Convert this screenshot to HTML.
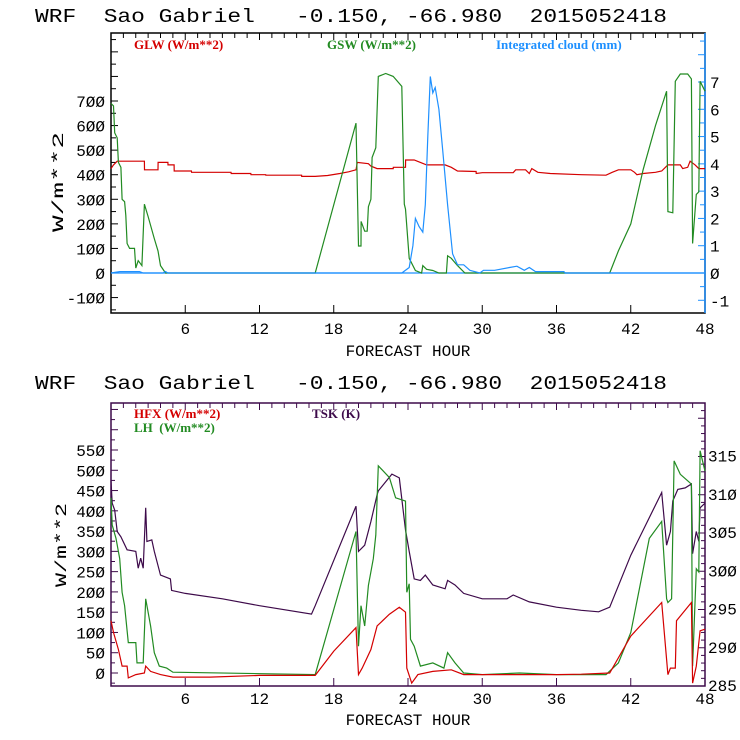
<!DOCTYPE html>
<html><head><meta charset="utf-8"><style>
body{margin:0;background:#fff;}
svg{display:block;font-family:"Liberation Mono",monospace;}
.t{font-size:19px;fill:#000;white-space:pre;}
.ax{font-size:16px;fill:#000;}
.lg{font-family:"Liberation Serif",serif;font-size:13px;font-weight:bold;white-space:pre;}
</style></head><body>
<svg id="svg" width="740" height="740" viewBox="0 0 740 740">
<text class="t" x="35" y="22" textLength="632" lengthAdjust="spacingAndGlyphs">WRF  Sao Gabriel   -0.150, -66.980  2015052418</text>
<text class="t" x="35" y="389" textLength="632" lengthAdjust="spacingAndGlyphs">WRF  Sao Gabriel   -0.150, -66.980  2015052418</text>
<g id="topchart"></g>
<g id="botchart"></g>
</svg>
<script>
// ---- top chart data (hour, value) ----
const glwHours=[0,0.2,0.5,2.7,2.71,3.8,3.81,4.6,4.61,5.1,5.11,6.5,6.51,9.7,9.71,11.3,11.31,12.5,12.51,15.4,15.41,16.5,17.5,18.5,19.2,19.8,19.9,20.8,21,21.5,22.8,22.81,23.8,23.81,24.5,25,25.5,27,27.5,28,29.5,29.51,30,32.5,32.7,33.5,33.8,34,34.5,35.5,38,40,40.5,41,42,42.3,42.5,43,44,44.5,45,46,46.2,46.6,46.8,47.2,47.5,48];
const glwValues=[425,440,455,455,420,420,450,450,440,440,415,415,410,410,405,405,400,400,398,398,393,393,397,405,412,420,450,445,435,425,425,430,430,460,460,450,440,440,430,415,413,405,408,408,420,420,405,425,410,405,400,398,410,420,420,410,400,405,410,415,440,440,425,430,455,440,425,425];
const gswHours=[0,0.2,0.3,0.5,0.6,0.8,0.9,1.1,1.2,1.3,1.5,1.9,2.0,2.2,2.5,2.7,3.0,3.5,3.8,4.0,4.4,16.5,19.8,20.0,20.2,20.21,20.5,20.7,20.8,21,21.1,21.4,21.6,22.2,22.8,23.5,23.7,23.8,24.1,24.6,25.1,25.2,25.5,26,26.5,27.1,27.2,27.5,28,28.6,40.3,41,42,43,44,44.9,45.0,45.4,45.6,46,46.6,46.9,47.0,47.3,47.5,47.6,48];
const gswValues=[690,680,570,550,450,430,300,290,235,120,100,100,20,50,30,280,230,140,90,30,0,0,610,110,110,210,170,170,270,300,470,510,800,812,800,760,280,260,60,10,0,30,15,10,0,0,70,60,30,0,0,90,200,420,600,740,250,245,780,810,810,790,120,320,330,780,740];
const cloudHours=[0,0.7,2.3,2.6,4.2,4.4,4.6,23.5,24.1,24.4,24.6,24.9,25.2,25.4,25.6,25.8,26.0,26.2,26.5,26.8,27.2,27.6,28,28.5,29,29.8,30.1,31,32.2,32.8,33.4,33.8,34.3,36.6,36.7,48];
const cloudValues=[0,0.05,0.05,0,0,0.05,0,0,0.2,1.0,2.0,1.7,1.5,2.5,5.0,7.2,6.6,6.8,6.0,4.5,2.5,0.7,0.3,0.3,0.1,0,0.1,0.1,0.2,0.25,0.1,0.2,0.05,0.05,0,0];
const topLeftTicks=[-100,0,100,200,300,400,500,600,700];
const topRightTicks=[-1,0,1,2,3,4,5,6,7];
const hourTicks=[6,12,18,24,30,36,42,48];
// ---- bottom chart data ----
const tskHours=[0,0.1,0.3,0.5,0.8,1.3,2.0,2.2,2.4,2.6,2.8,2.9,3.3,3.5,4.0,4.8,4.9,6,9,12,16.2,16.5,19.8,20.0,20.5,21,21.5,21.6,22.7,23.3,23.8,24.1,24.5,25,25.4,26,27,27.2,27.8,28.5,30,32,32.5,33.8,36,38,39.4,40.3,42,44.5,44.9,45.2,45.4,45.8,46.4,46.9,47.0,47.3,47.5,47.6,48];
const tskValues=[311.8,308.9,308,305.2,304.5,302.8,302.6,300.4,301.7,300.4,308.3,303.9,304.1,302.6,299.5,299,297.5,297.1,296.4,295.5,294.4,295.5,308.5,302.6,303.4,306.5,310,310.5,312.7,312.2,305.4,302.6,299,298.8,299.5,298.2,297.7,298.8,298.2,297.1,296.4,296.4,296.9,296,295.3,294.9,294.7,295.3,302.1,310.3,303.4,305.2,309.2,310.7,310.9,311.4,302.3,305.2,303.9,308.3,308.9];
const lhHours=[0,0.1,0.4,0.7,0.9,1.1,1.4,2.0,2.1,2.6,2.8,3.2,3.5,3.9,4.5,5,16.5,19.8,20.0,20.2,20.5,20.8,21.2,21.4,21.6,22.5,23,23.8,23.9,24.1,24.2,24.5,25,26,26.9,27.2,27.8,28.5,30,33,36,40,41,42,43.5,44.5,44.9,45.0,45.3,45.5,46,46.6,46.9,47.0,47.3,47.5,47.6,48];
const lhValues=[432,365,332,282,199,166,75,75,25,25,183,116,50,17,12,2,-4,349,66,166,116,216,282,340,511,482,432,424,199,220,83,66,17,25,12,50,25,0,-4,0,-4,-4,25,100,332,374,183,174,183,523,490,474,466,17,257,249,548,498];
const hfxHours=[0,0.2,0.6,0.9,1.3,1.4,2.0,2.7,2.8,3.2,4,5,8,12,16.5,18,19.8,20.0,20.3,21,21.5,22.5,23.3,23.8,23.9,24.3,24.8,26,27.5,28.5,30,36,38,40.3,42,44.5,45.0,45.2,45.6,45.7,46.9,47.0,47.3,47.6,48];
const hfxValues=[129,100,58,17,17,-12,-4,0,17,4,-4,-10,-10,-6,-6,54,112,-4,12,58,116,145,162,150,12,-25,-4,4,8,-4,-4,-4,-3,0,91,174,-4,12,12,129,174,-25,17,104,108];
const botLeftTicks=[0,50,100,150,200,250,300,350,400,450,500,550];
const botRightTicks=[285,290,295,300,305,310,315];

const NS="http://www.w3.org/2000/svg";
function mk(parent,tag,attrs){const el=document.createElementNS(NS,tag);for(const k in attrs)el.setAttribute(k,attrs[k]);parent.appendChild(el);return el;}
const X0=111,X1=705;
function xs(h){return X0+(X1-X0)*h/48;}
function lin(d0,d1,p0,p1){return v=>p0+(v-d0)*(p1-p0)/(d1-d0);}
function pathFrom(hours,vals,ys){let d="";for(let i=0;i<hours.length;i++){d+=(i?"L":"M")+xs(hours[i]).toFixed(1)+","+ys(vals[i]).toFixed(1);}return d;}
function zl(v){return String(v).replace(/0/g,'Ø');}

// ===== top chart =====
const topG=document.getElementById('topchart');
const T0=33,T1=313;
const yTL=lin(0,700,273,101), yTR=lin(0,7,273,82);
let e;
e=mk(topG,'rect',{x:X0,y:T0,width:X1-X0,height:T1-T0,fill:'none',stroke:'#000','stroke-width':1.5});

e=mk(topG,'line',{x1:X1,y1:T0,x2:X1,y2:T1,stroke:'#1e90ff','stroke-width':1.5});

for(let v=-150;v<=950;v+=50){const y=yTL(v);if(y<T0||y>T1)continue;const l=mk(topG,'line',{x1:X0,y1:y,x2:X0+(v%100===0?7:5),y2:y,stroke:'#000'});}
for(let v=-1.5;v<=8.5;v+=0.5){const y=yTR(v);if(y<T0||y>T1)continue;const l=mk(topG,'line',{x1:X1,y1:y,x2:X1-(Number.isInteger(v)?7:5),y2:y,stroke:'#1e90ff'});}
for(let h=1;h<48;h++){const l=mk(topG,'line',{x1:xs(h),y1:T0,x2:xs(h),y2:T0+(h%6===0?7:5),stroke:'#000'});
 if(h%6===0){const l2=mk(topG,'line',{x1:xs(h),y1:T1,x2:xs(h),y2:T1-8,stroke:'#000'});}}
topLeftTicks.forEach(v=>{const t=mk(topG,'text',{x:X0-6,y:yTL(v)+6,'text-anchor':'end',class:'ax'});t.textContent=zl(v);});
topRightTicks.forEach(v=>{const t=mk(topG,'text',{x:X1+5,y:yTR(v)+6,class:'ax'});t.textContent=zl(v);});
hourTicks.forEach(h=>{const t=mk(topG,'text',{x:xs(h),y:334,'text-anchor':'middle',class:'ax'});t.textContent=String(h);});
e=mk(topG,'text',{x:408,y:356,'text-anchor':'middle',class:'ax'});e.textContent='FORECAST HOUR';
e=mk(topG,'text',{x:0,y:0,transform:'translate(63,182) rotate(-90)','text-anchor':'middle',class:'ax','font-size':'19px',textLength:'100',lengthAdjust:'spacingAndGlyphs'});e.textContent='W/m**2';
e=mk(topG,'line',{x1:X0,y1:yTL(0),x2:X1,y2:yTL(0),stroke:'#1e90ff','stroke-width':1.2});
e=mk(topG,'path',{d:pathFrom(glwHours,glwValues,yTL),fill:'none',stroke:'#d40000','stroke-width':1.2});
e=mk(topG,'path',{d:pathFrom(gswHours,gswValues,yTL),fill:'none',stroke:'#228b22','stroke-width':1.2});
e=mk(topG,'path',{d:pathFrom(cloudHours,cloudValues,yTR),fill:'none',stroke:'#1e90ff','stroke-width':1.2});
e=mk(topG,'text',{x:134,y:49,fill:'#d40000',class:'lg'});e.textContent='GLW (W/m**2)';
e=mk(topG,'text',{x:327,y:49,fill:'#228b22',class:'lg'});e.textContent='GSW (W/m**2)';
e=mk(topG,'text',{x:496,y:49,fill:'#1e90ff',class:'lg'});e.textContent='Integrated cloud (mm)';

// ===== bottom chart =====
const botG=document.getElementById('botchart');
const B0=403,B1=686;
const yBL=lin(0,550,673,450), yBR=lin(285,315,686,456.5);
e=mk(botG,'rect',{x:X0,y:B0,width:X1-X0,height:B1-B0,fill:'none',stroke:'#3d0a4a','stroke-width':1.5});

for(let v=-25;v<=675;v+=25){const y=yBL(v);if(y<B0||y>B1)continue;const l=mk(botG,'line',{x1:X0,y1:y,x2:X0+(v%50===0?7:4),y2:y,stroke:'#3d0a4a'});}
for(let v=285;v<=322;v+=1){const y=yBR(v);if(y<B0||y>B1)continue;const l=mk(botG,'line',{x1:X1,y1:y,x2:X1-(v%5===0?7:4),y2:y,stroke:'#3d0a4a'});}
for(let h=1;h<48;h++){const l=mk(botG,'line',{x1:xs(h),y1:B0,x2:xs(h),y2:B0+(h%6===0?7:5),stroke:'#3d0a4a'});
 if(h%6===0){const l2=mk(botG,'line',{x1:xs(h),y1:B1,x2:xs(h),y2:B1-8,stroke:'#3d0a4a'});}}
botLeftTicks.forEach(v=>{const t=mk(botG,'text',{x:X0-6,y:yBL(v)+6,'text-anchor':'end',class:'ax'});t.textContent=zl(v);});
botRightTicks.forEach(v=>{const t=mk(botG,'text',{x:X1+3,y:yBR(v)+5,class:'ax','font-size':'12px'});t.textContent=zl(v);});
hourTicks.forEach(h=>{const t=mk(botG,'text',{x:xs(h),y:704,'text-anchor':'middle',class:'ax'});t.textContent=String(h);});
e=mk(botG,'text',{x:408,y:725,'text-anchor':'middle',class:'ax'});e.textContent='FORECAST HOUR';
e=mk(botG,'text',{x:0,y:0,transform:'translate(66,545) rotate(-90)','text-anchor':'middle',class:'ax','font-size':'19px',textLength:'84',lengthAdjust:'spacingAndGlyphs'});e.textContent='W/m**2';
e=mk(botG,'path',{d:pathFrom(tskHours,tskValues,yBR),fill:'none',stroke:'#3d0a4a','stroke-width':1.2});
e=mk(botG,'path',{d:pathFrom(lhHours,lhValues,yBL),fill:'none',stroke:'#228b22','stroke-width':1.2});
e=mk(botG,'path',{d:pathFrom(hfxHours,hfxValues,yBL),fill:'none',stroke:'#d40000','stroke-width':1.2});
e=mk(botG,'text',{x:134,y:418,fill:'#d40000',class:'lg'});e.textContent='HFX (W/m**2)';
e=mk(botG,'text',{x:134,y:432,fill:'#228b22',class:'lg'});e.textContent='LH  (W/m**2)';
e=mk(botG,'text',{x:312,y:418,fill:'#3d0a4a',class:'lg'});e.textContent='TSK (K)';
</script>
</body></html>
